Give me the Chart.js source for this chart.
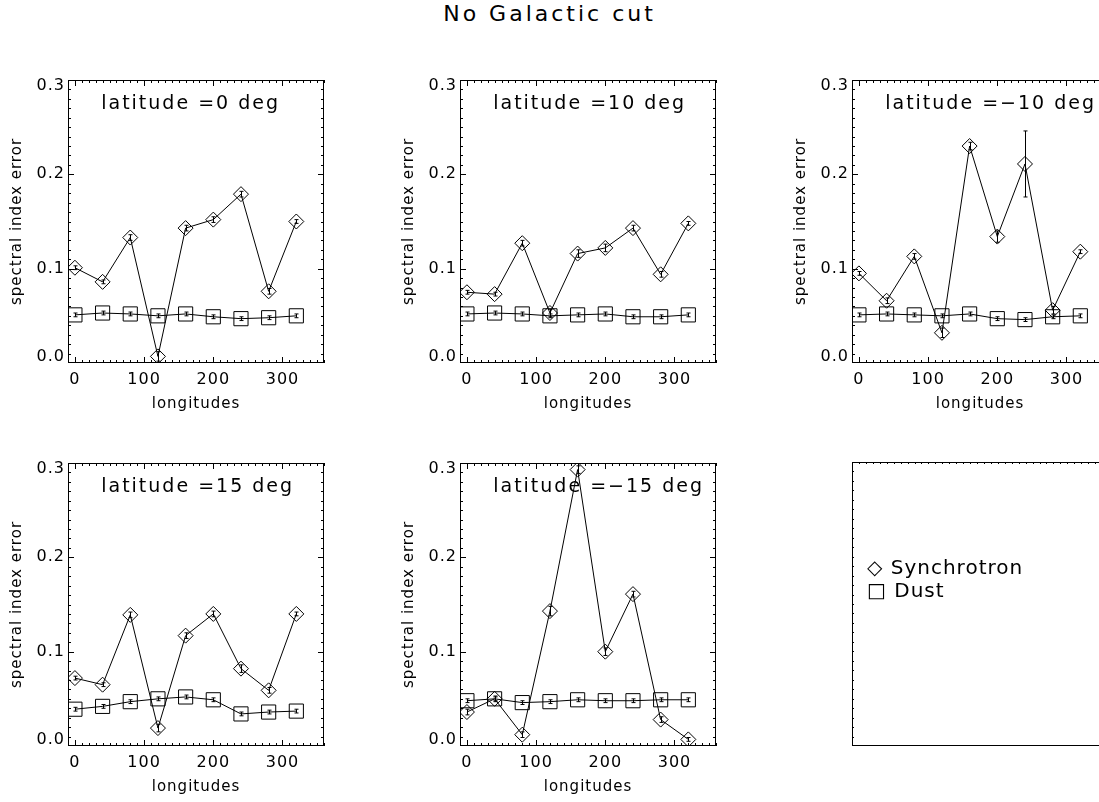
<!DOCTYPE html>
<html lang="en">
<head>
<meta charset="UTF-8">
<title>No Galactic cut</title>
<script src="https://cdn.jsdelivr.net/npm/chart.js"></script>
<style>
    html, body {
        margin: 0;
        padding: 0;
        background: #fff;
        overflow: hidden;
        width: 1099px;
        height: 802px;
        font-family: "DejaVu Sans", sans-serif;
        color: #000;
    }
    .panel {
        position: absolute;
    }
    #title {
        position: absolute;
        left: 0;
        width: 1099px;
        top: 0;
        text-align: center;
        font-size: 22px;
        letter-spacing: 3px;
        line-height: 28px;
    }
    .legend-item {
        position: absolute;
        font-size: 20px;
        letter-spacing: 1px;
        line-height: 24px;
        white-space: nowrap;
    }
</style>
</head>
<body>
<div id="title">No Galactic cut</div>
<div class="panel" id="p1"><canvas id="c1" width="327" height="344"></canvas></div>
<div class="panel" id="p2"><canvas id="c2" width="327" height="344"></canvas></div>
<div class="panel" id="p3"><canvas id="c3" width="327" height="344"></canvas></div>
<div class="panel" id="p4"><canvas id="c4" width="327" height="344"></canvas></div>
<div class="panel" id="p5"><canvas id="c5" width="327" height="344"></canvas></div>
<div class="panel" id="p6"><canvas id="c6" width="327" height="344"></canvas></div>
<div class="legend-item" style="left:867px; top:555px;">◇ Synchrotron</div>
<div class="legend-item" style="left:867px; top:578px;">□ Dust</div>
<script>
    const longitudes = [0, 40, 80, 120, 160, 200, 240, 280, 320];
    const xTicks = [0, 100, 200, 300];
    const yTicks = [0, 0.1, 0.2, 0.3];

    // latitude = 0
    const synchLat0 = [0.101, 0.086, 0.133, 0.007, 0.143, 0.152, 0.179, 0.076, 0.150];
    const synchErrLat0 = [0.002, 0.002, 0.003, 0.005, 0.003, 0.003, 0.003, 0.003, 0.002];
    const dustLat0 = [0.051, 0.053, 0.052, 0.050, 0.052, 0.049, 0.047, 0.048, 0.050];
    const dustErrLat0 = [0.002, 0.002, 0.002, 0.002, 0.002, 0.002, 0.002, 0.002, 0.002];

    // latitude = 10
    const synchLat10 = [0.075, 0.073, 0.127, 0.053, 0.116, 0.122, 0.143, 0.094, 0.148];
    const synchErrLat10 = [0.002, 0.002, 0.003, 0.004, 0.004, 0.004, 0.003, 0.003, 0.002];
    const dustLat10 = [0.052, 0.053, 0.052, 0.050, 0.051, 0.052, 0.049, 0.049, 0.051];
    const dustErrLat10 = [0.002, 0.002, 0.002, 0.002, 0.002, 0.002, 0.002, 0.002, 0.002];

    // latitude = -10
    const synchLatM10 = [0.095, 0.066, 0.113, 0.032, 0.230, 0.134, 0.211, 0.056, 0.118];
    const synchErrLatM10 = [0.002, 0.003, 0.003, 0.005, 0.004, 0.006, 0.035, 0.004, 0.002];
    const dustLatM10 = [0.051, 0.052, 0.051, 0.050, 0.052, 0.047, 0.046, 0.049, 0.050];
    const dustErrLatM10 = [0.002, 0.002, 0.002, 0.002, 0.002, 0.002, 0.002, 0.002, 0.002];

    // latitude = 15
    const synchLat15 = [0.072, 0.065, 0.139, 0.019, 0.117, 0.140, 0.082, 0.059, 0.140];
    const synchErrLat15 = [0.002, 0.002, 0.003, 0.004, 0.003, 0.003, 0.004, 0.003, 0.002];
    const dustLat15 = [0.039, 0.042, 0.047, 0.050, 0.052, 0.049, 0.034, 0.036, 0.037];
    const dustErrLat15 = [0.002, 0.002, 0.002, 0.002, 0.002, 0.002, 0.002, 0.002, 0.002];

    // latitude = -15
    const synchLatM15 = [0.036, 0.050, 0.012, 0.143, 0.293, 0.100, 0.161, 0.028, 0.007];
    const synchErrLatM15 = [0.003, 0.003, 0.003, 0.005, 0.004, 0.004, 0.003, 0.003, 0.002];
    const dustLatM15 = [0.048, 0.050, 0.046, 0.047, 0.049, 0.048, 0.048, 0.049, 0.049];
    const dustErrLatM15 = [0.002, 0.002, 0.002, 0.002, 0.002, 0.002, 0.002, 0.002, 0.002];

    const FONT = '"DejaVu Sans", sans-serif';
    Chart.defaults.font.family = FONT;
    Chart.defaults.color = '#000';

    // wider letter spacing for all axis text (IDL fonts run wide)
    const wideText = {
        id: 'wideText',
        beforeDraw(chart) {
            chart.ctx.letterSpacing = '1px';
        }
    };

    // frame + inward tick marks on all four sides, like IDL
    const idlFrame = {
        id: 'idlFrame',
        afterDraw(chart, args, opts) {
            const {ctx, chartArea: a} = chart;
            const x = chart.scales.x, y = chart.scales.y;
            const major = opts.major, minor = opts.minor;
            ctx.save();
            ctx.strokeStyle = '#000';
            ctx.lineWidth = 1;
            ctx.strokeRect(Math.round(a.left) + 0.5, Math.round(a.top) + 0.5,
                Math.round(a.width) - 1, Math.round(a.height) - 1);
            ctx.beginPath();
            for (let i = 0; i <= 36; i++) {
                const v = i * 10;
                const len = v % 100 === 0 ? major : minor;
                if (!len) continue;
                const px = Math.round(x.getPixelForValue(v)) + 0.5;
                if (opts.bottom) { ctx.moveTo(px, a.bottom); ctx.lineTo(px, a.bottom - len); }
                if (opts.top) { ctx.moveTo(px, a.top); ctx.lineTo(px, a.top + len); }
            }
            for (let i = 1; i < 30; i++) {
                const len = i % 10 === 0 ? major : minor;
                if (!len) continue;
                const py = Math.round(y.getPixelForValue(i / 100)) + 0.5;
                if (opts.left) { ctx.moveTo(a.left, py); ctx.lineTo(a.left + len, py); }
                if (opts.right) { ctx.moveTo(a.right, py); ctx.lineTo(a.right - len, py); }
            }
            ctx.stroke();

            // y tick labels; the end ones are pulled inside the axis range
            if (opts.yLabels) {
                ctx.font = '16px ' + FONT;
                ctx.letterSpacing = '1px';
                ctx.fillStyle = '#000';
                ctx.textAlign = 'right';
                ctx.textBaseline = 'middle';
                yTicks.forEach((v, i) => {
                    let py = y.getPixelForValue(v);
                    if (i === 0) py -= 6;
                    if (i === yTicks.length - 1) py += 6;
                    ctx.fillText(v.toFixed(1), a.left - 3, py);
                });
            }
            ctx.restore();
        }
    };

    // error bars with small caps
    const errorBars = {
        id: 'errorBars',
        afterDatasetsDraw(chart) {
            const {ctx} = chart;
            const x = chart.scales.x, y = chart.scales.y;
            ctx.save();
            ctx.strokeStyle = '#000';
            ctx.lineWidth = 1;
            chart.data.datasets.forEach(ds => {
                if (!ds.errors) return;
                ds.data.forEach((p, i) => {
                    const e = ds.errors[i];
                    const px = Math.round(x.getPixelForValue(p.x)) + 0.5;
                    const y1 = y.getPixelForValue(p.y - e);
                    const y2 = y.getPixelForValue(p.y + e);
                    ctx.beginPath();
                    ctx.moveTo(px, y1); ctx.lineTo(px, y2);
                    ctx.moveTo(px - 2, y1); ctx.lineTo(px + 2, y1);
                    ctx.moveTo(px - 2, y2); ctx.lineTo(px + 2, y2);
                    ctx.stroke();
                });
            });
            ctx.restore();
        }
    };

    // text written inside the plot at a data position
    const panelLabel = {
        id: 'panelLabel',
        afterDraw(chart, args, opts) {
            if (!opts.text) return;
            const {ctx} = chart;
            ctx.save();
            ctx.font = '19px ' + FONT;
            ctx.letterSpacing = '2px';
            ctx.fillStyle = '#000';
            ctx.textAlign = 'left';
            ctx.textBaseline = 'middle';
            ctx.fillText(opts.text, chart.scales.x.getPixelForValue(opts.x), chart.scales.y.getPixelForValue(opts.y));
            ctx.restore();
        }
    };

    function points(values) {
        return values.map((v, i) => ({x: longitudes[i], y: v}));
    }

    function makePanel(canvasId, label, synch, synchErr, dust, dustErr, isLegend) {
        const datasets = isLegend ? [] : [
            {
                label: 'Synchrotron',
                data: points(synch),
                errors: synchErr,
                borderColor: '#000',
                borderWidth: 1,
                backgroundColor: 'rgba(0,0,0,0)',
                pointStyle: 'rectRot',
                pointRadius: 7.5,
                pointBorderWidth: 1,
                tension: 0
            },
            {
                label: 'Dust',
                data: points(dust),
                errors: dustErr,
                borderColor: '#000',
                borderWidth: 1,
                backgroundColor: 'rgba(0,0,0,0)',
                pointStyle: 'rect',
                pointRadius: 10,
                pointBorderWidth: 1,
                tension: 0
            }
        ];
        return new Chart(document.getElementById(canvasId), {
            type: 'line',
            data: {datasets: datasets},
            options: {
                responsive: false,
                animation: false,
                layout: {padding: {left: 0, top: 10, right: 10, bottom: 0}},
                plugins: {
                    legend: {display: false},
                    tooltip: {enabled: false},
                    idlFrame: isLegend
                        ? {major: 2, minor: 2, left: true, top: true, yLabels: false}
                        : {major: 6, minor: 3, left: true, right: true, top: true, bottom: true, yLabels: true},
                    panelLabel: {text: label, x: 38, y: 0.275}
                },
                scales: {
                    x: {
                        type: 'linear',
                        min: -10,
                        max: 360,
                        afterBuildTicks: s => { s.ticks = xTicks.map(v => ({value: v})); },
                        afterFit: s => { s.height = 50; },
                        grid: {display: false, drawTicks: false},
                        border: {display: false},
                        ticks: {
                            display: !isLegend,
                            font: {size: 16},
                            color: '#000',
                            padding: 7,
                            maxRotation: 0,
                            autoSkip: false
                        },
                        title: {
                            display: !isLegend,
                            text: 'longitudes',
                            font: {size: 15},
                            color: '#000',
                            padding: {top: 0, bottom: 0}
                        }
                    },
                    y: {
                        type: 'linear',
                        min: 0,
                        max: 0.3,
                        afterBuildTicks: s => { s.ticks = yTicks.map(v => ({value: v})); },
                        afterFit: s => { s.width = 60; },
                        grid: {display: false, drawTicks: false},
                        border: {display: false},
                        ticks: {display: false},
                        title: {
                            display: !isLegend,
                            text: 'spectral index error',
                            font: {size: 15},
                            color: '#000',
                            padding: {top: 0, bottom: 0}
                        }
                    }
                }
            },
            plugins: [wideText, idlFrame, errorBars, panelLabel]
        });
    }

    // place the canvases so that each plot area sits where it should
    function place(id, plotLeft, plotTop) {
        const el = document.getElementById(id);
        el.style.left = (plotLeft - 60) + 'px';
        el.style.top = (plotTop - 10) + 'px';
    }
    place('p1', 68, 79);
    place('p2', 460, 79);
    place('p3', 852, 79);
    place('p4', 68, 462);
    place('p5', 460, 462);
    place('p6', 852, 462);

    makePanel('c1', 'latitude =0 deg', synchLat0, synchErrLat0, dustLat0, dustErrLat0);
    makePanel('c2', 'latitude =10 deg', synchLat10, synchErrLat10, dustLat10, dustErrLat10);
    makePanel('c3', 'latitude =\u221210 deg', synchLatM10, synchErrLatM10, dustLatM10, dustErrLatM10);
    makePanel('c4', 'latitude =15 deg', synchLat15, synchErrLat15, dustLat15, dustErrLat15);
    makePanel('c5', 'latitude =\u221215 deg', synchLatM15, synchErrLatM15, dustLatM15, dustErrLatM15);
    makePanel('c6', '', [], [], [], [], true);
</script>
</body>
</html>
